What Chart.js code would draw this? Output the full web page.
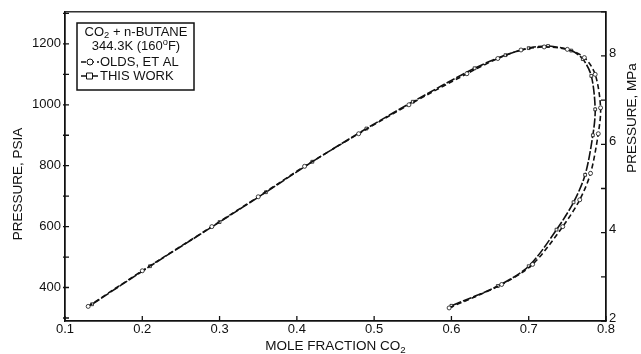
<!DOCTYPE html>
<html>
<head>
<meta charset="utf-8">
<script src="https://cdn.jsdelivr.net/npm/chart.js@4.4.1/dist/chart.umd.min.js"></script>
<style>
  html, body { margin: 0; padding: 0; background: #fff; }
  #wrap { width: 641px; height: 354px; }
</style>
</head>
<body>
<div id="wrap"><canvas id="chart"></canvas></div>
<script>
const PSI_PER_MPA = 145.038;
const INK = '#111';
const FONT = "'Liberation Sans', Arial, sans-serif";

// Olds, et al: bubble curve up to the critical region, then back down the dew curve
const oldsX   = [0.130, 0.200, 0.290, 0.350, 0.410, 0.480, 0.545, 0.620, 0.660, 0.690, 0.720, 0.750, 0.772, 0.786, 0.793, 0.790, 0.780, 0.766, 0.744, 0.705, 0.665, 0.597];
const oldsPsi = [338, 455, 600, 698, 798, 905, 1000, 1102, 1152, 1180, 1190, 1182, 1155, 1100, 990, 905, 775, 688, 600, 476, 410, 333];

// This work
const workX   = [0.135, 0.210, 0.300, 0.360, 0.420, 0.490, 0.550, 0.630, 0.670, 0.700, 0.725, 0.755, 0.770, 0.781, 0.786, 0.783, 0.773, 0.758, 0.736, 0.700, 0.660, 0.600];
const workPsi = [345, 470, 615, 713, 813, 922, 1010, 1120, 1163, 1186, 1193, 1178, 1150, 1095, 985, 900, 770, 680, 590, 470, 405, 340];

// Axis ticks
const xTicks    = [0.1, 0.2, 0.3, 0.4, 0.5, 0.6, 0.7, 0.8];
const psiTicks  = [300, 400, 500, 600, 700, 800, 900, 1000, 1100, 1200, 1300];
const psiLabels = [400, 600, 800, 1000, 1200];
const mpaTicks  = [2, 3, 4, 5, 6, 7, 8, 9];
const mpaLabels = [2, 4, 6, 8];

const toPoints = (xs, ys) => xs.map((x, i) => ({ x, y: ys[i] }));

// ── Helpers ──────────────────────────────────────────────────

// Draw text runs like [['CO', 0], ['2', 1]] where 1 = subscript, -1 = superscript
function drawRuns(ctx, runs, x, y, size, align) {
  const widths = runs.map(([t, s]) => {
    ctx.font = `${s ? size * 0.72 : size}px ${FONT}`;
    return ctx.measureText(t).width;
  });
  const total = widths.reduce((a, b) => a + b, 0);
  let cx = align === 'center' ? x - total / 2 : x;
  runs.forEach(([t, s], i) => {
    ctx.font = `${s ? size * 0.72 : size}px ${FONT}`;
    ctx.fillText(t, cx, y + s * size * 0.3);
    cx += widths[i];
  });
}

function sampleLine(ctx, ds, x0, x1, y) {
  ctx.save();
  ctx.strokeStyle = INK;
  ctx.lineWidth = ds.borderWidth;
  ctx.setLineDash(ds.borderDash);
  ctx.beginPath(); ctx.moveTo(x0, y); ctx.lineTo(x1, y); ctx.stroke();
  ctx.setLineDash([]);
  const mx = (x0 + x1) / 2, r = 3;
  ctx.fillStyle = '#fff';
  ctx.lineWidth = 1;
  ctx.beginPath();
  if (ds.pointStyle === 'rect') ctx.rect(mx - r, y - r, 2 * r, 2 * r);
  else ctx.arc(mx, y, r, 0, Math.PI * 2);
  ctx.fill(); ctx.stroke();
  ctx.restore();
}

// Ticks point into the plot, box closed on all four sides
const frameTicks = {
  id: 'frameTicks',
  afterDatasetsDraw(chart) {
    const { ctx, chartArea: a, scales } = chart;
    ctx.save();
    ctx.strokeStyle = INK;
    ctx.lineWidth = 1.3;
    ctx.strokeRect(a.left, a.top, a.right - a.left, a.bottom - a.top);
    ctx.beginPath();
    scales.x.ticks.forEach(t => {
      const p = scales.x.getPixelForValue(t.value);
      ctx.moveTo(p, a.bottom); ctx.lineTo(p, a.bottom - 5);
    });
    scales.y.ticks.forEach(t => {
      const p = scales.y.getPixelForValue(t.value);
      ctx.moveTo(a.left - 2, p); ctx.lineTo(a.left + 4, p);
    });
    scales.y2.ticks.forEach(t => {
      const p = scales.y2.getPixelForValue(t.value);
      ctx.moveTo(a.right, p); ctx.lineTo(a.right - 5, p);
    });
    ctx.stroke();
    ctx.restore();
  },
};

// Legend box and axis titles
const annotations = {
  id: 'annotations',
  afterDraw(chart) {
    const { ctx, chartArea: a } = chart;
    const ds = chart.data.datasets;
    ctx.save();
    ctx.fillStyle = INK;
    ctx.strokeStyle = INK;
    ctx.textBaseline = 'middle';
    ctx.textAlign = 'left';

    // legend
    ctx.fillStyle = '#fff';
    ctx.fillRect(77, 23, 117, 67);
    ctx.lineWidth = 1.5;
    ctx.strokeRect(77, 23, 117, 67);
    ctx.fillStyle = INK;
    drawRuns(ctx, [['CO', 0], ['2', 1], [' + n-BUTANE', 0]], 136, 32, 13, 'center');
    drawRuns(ctx, [['344.3K (160', 0], ['o', -1], ['F)', 0]], 136, 46, 13, 'center');
    sampleLine(ctx, ds[0], 81, 99, 62);
    drawRuns(ctx, [['OLDS, ET AL', 0]], 100, 62, 13, 'left');
    sampleLine(ctx, ds[1], 81, 98, 76);
    drawRuns(ctx, [['THIS WORK', 0]], 100, 76, 13, 'left');

    // bottom title
    drawRuns(ctx, [['MOLE FRACTION CO', 0], ['2', 1]], (a.left + a.right) / 2, 346, 13.5, 'center');

    // left title
    ctx.save();
    ctx.translate(18, 184);
    ctx.rotate(-Math.PI / 2);
    drawRuns(ctx, [['PRESSURE, PSIA', 0]], 0, 0, 13.5, 'center');
    ctx.restore();

    // right title
    ctx.save();
    ctx.translate(632, 118);
    ctx.rotate(-Math.PI / 2);
    drawRuns(ctx, [['PRESSURE, MPa', 0]], 0, 0, 13.5, 'center');
    ctx.restore();

    ctx.restore();
  },
};

const tickFont = { family: FONT, size: 13 };

new Chart(document.getElementById('chart'), {
  type: 'scatter',
  data: {
    datasets: [
      {
        label: 'OLDS, ET AL',
        data: toPoints(oldsX, oldsPsi),
        showLine: true,
        borderColor: INK,
        borderWidth: 1.6,
        borderDash: [5, 3],
        pointStyle: 'circle',
        pointRadius: 2,
        pointBorderWidth: 0.8,
        pointBackgroundColor: '#fff',
        pointBorderColor: INK,
        tension: 0.3,
        yAxisID: 'y',
      },
      {
        label: 'THIS WORK',
        data: toPoints(workX, workPsi),
        showLine: true,
        borderColor: INK,
        borderWidth: 1.6,
        borderDash: [9, 2],
        pointStyle: 'rect',
        pointRadius: 2,
        pointBorderWidth: 0.8,
        pointBackgroundColor: '#fff',
        pointBorderColor: INK,
        tension: 0.3,
        yAxisID: 'y',
      },
    ],
  },
  options: {
    responsive: true,
    maintainAspectRatio: false,
    animation: false,
    layout: { padding: { top: 11, left: 0, right: 0, bottom: 0 } },
    plugins: { legend: { display: false }, tooltip: { enabled: false } },
    scales: {
      x: {
        type: 'linear',
        position: 'bottom',
        min: 0.1,
        max: 0.8,
        afterBuildTicks: s => { s.ticks = xTicks.map(value => ({ value })); },
        afterFit: s => { s.height = 33; },
        grid: { drawOnChartArea: false, drawTicks: false },
        border: { color: INK, width: 1.3 },
        ticks: { font: tickFont, color: INK, padding: 1, maxRotation: 0, callback: v => v.toFixed(1) },
      },
      y: {
        type: 'linear',
        position: 'left',
        min: 2 * PSI_PER_MPA,
        max: 9 * PSI_PER_MPA,
        afterBuildTicks: s => { s.ticks = psiTicks.map(value => ({ value })); },
        afterFit: s => { s.width = 65; },
        grid: { drawOnChartArea: false, drawTicks: false },
        border: { color: INK, width: 1.3 },
        ticks: { font: tickFont, color: INK, padding: 4, callback: v => psiLabels.includes(v) ? String(v) : '' },
      },
      y2: {
        type: 'linear',
        position: 'right',
        min: 2,
        max: 9,
        afterBuildTicks: s => { s.ticks = mpaTicks.map(value => ({ value })); },
        afterFit: s => { s.width = 35; },
        grid: { drawOnChartArea: false, drawTicks: false },
        border: { color: INK, width: 1.3 },
        ticks: { font: tickFont, color: INK, padding: 3, labelOffset: -3, callback: v => mpaLabels.includes(v) ? String(v) : '' },
      },
    },
  },
  plugins: [frameTicks, annotations],
});
</script>
</body>
</html>
